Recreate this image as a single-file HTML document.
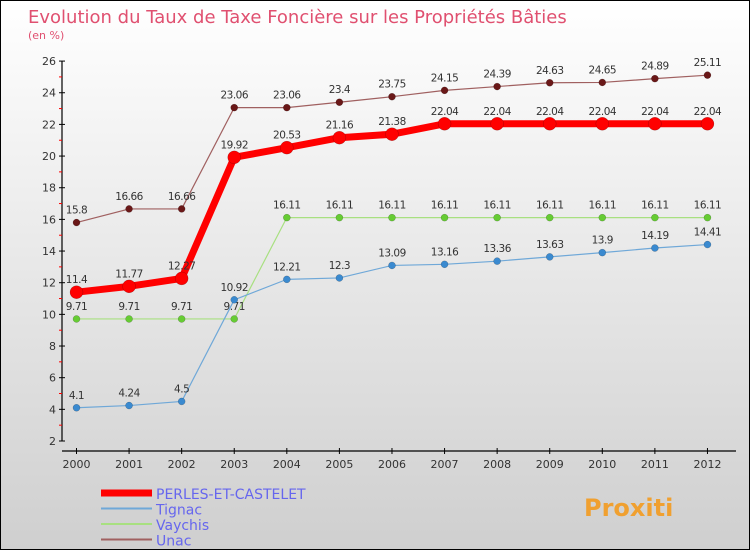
<!DOCTYPE html>
<html><head><meta charset="utf-8"><style>
body{margin:0}
#c{width:748px;height:548px;border:1px solid #000;background:linear-gradient(#fff,#cfcfcf);position:relative;font-family:"DejaVu Sans","Liberation Sans",sans-serif}
svg{position:absolute;left:0;top:0}
</style></head><body>
<div id="c">
<svg id="s" width="750" height="550"></svg>
</div>
<script>
const years=[2000,2001,2002,2003,2004,2005,2006,2007,2008,2009,2010,2011,2012];
const perles=[11.4,11.77,12.27,19.92,20.53,21.16,21.38,22.04,22.04,22.04,22.04,22.04,22.04];
const tignac=[4.1,4.24,4.5,10.92,12.21,12.3,13.09,13.16,13.36,13.63,13.9,14.19,14.41];
const vaychis=[9.71,9.71,9.71,9.71,16.11,16.11,16.11,16.11,16.11,16.11,16.11,16.11,16.11];
const unac=[15.8,16.66,16.66,23.06,23.06,23.4,23.75,24.15,24.39,24.63,24.65,24.89,25.11];
const yTicks=[2,4,6,8,10,12,14,16,18,20,22,24,26];
const NS="http://www.w3.org/2000/svg";
const s=document.getElementById('s');
const X=i=>75.5+i*52.58;
const Y=v=>440-(v-2)*15.83;
function el(t,a,p){const e=document.createElementNS(NS,t);for(const k in a)e.setAttribute(k,a[k]);(p||s).appendChild(e);return e;}
function fmt(v){return String(v).replace(/\.?0+$/,'');}
let t=el('text',{x:27,y:22,'font-size':18,fill:'#e05070'});t.textContent='Evolution du Taux de Taxe Foncière sur les Propriétés Bâties';


t=el('text',{x:27,y:38,'font-size':11,fill:'#e05070'});t.textContent='(en %)';


let a=el('line',{x1:61,y1:60,x2:61,y2:440,stroke:'#000','stroke-width':1.2});


a=el('line',{x1:61,y1:450,x2:735,y2:450,stroke:'#000','stroke-width':1.2});


yTicks.forEach((v,i)=>{
 el('line',{x1:58,x2:64,y1:Y(v),y2:Y(v),stroke:'#000'});
 if(i<yTicks.length-1)el('line',{x1:58,x2:61,y1:Y(v+1),y2:Y(v+1),stroke:'#f00'});
 const l=el('text',{x:55,y:Y(v)+4,'font-size':11,fill:'#333','text-anchor':'end'});l.textContent=v;
 
 
});
years.forEach((y,i)=>{
 el('line',{x1:X(i),x2:X(i),y1:447,y2:453,stroke:'#000'});
 const l=el('text',{x:X(i),y:467,'font-size':11,fill:'#333','text-anchor':'middle'});l.textContent=y;
 
 
});
function series(d,col,dot,w,r,name){
 const g=el('g',{});
 
 
 el('polyline',{points:d.map((v,i)=>X(i)+','+Y(v)).join(' '),fill:'none',stroke:col,'stroke-width':w,'stroke-linejoin':'round'},g);
 d.forEach((v,i)=>{
  const c=el('circle',{cx:X(i),cy:Y(v),r:r,fill:dot,stroke:'rgba(0,0,0,0.3)','stroke-width':0.5},g);
  
  
  const l=el('text',{x:X(i),y:Y(v)-9,'font-size':10.5,fill:'#333','text-anchor':'middle','letter-spacing':'-0.5'},g);l.textContent=fmt(v);
 });
}
series(vaychis,'#a8e080','#66cc33',1.2,3.5,'vaychis');
series(tignac,'#6fa8d8','#3a8ad0',1.2,3.5,'tignac');
series(unac,'#a06060','#6a1818',1.2,3.5,'unac');
series(perles,'#ff0000','#ff0000',7,6.5,'perles');
const legend=[['PERLES-ET-CASTELET','#f00',7],['Tignac','#6fa8d8',2],['Vaychis','#a8e080',2],['Unac','#a06060',2]];
legend.forEach((L,i)=>{
 const yy=492+i*15.5;
 const g=el('g',{});
 
 
 el('line',{x1:100,x2:151,y1:yy,y2:yy,stroke:L[1],'stroke-width':L[2]},g);
 const tx=el('text',{x:155,y:yy+6,'font-size':14,fill:'#6666ee'},g);tx.textContent=L[0];
});
const p=el('text',{x:583,y:515,'font-size':24,'font-weight':'bold',fill:'#f0a030'});
p.textContent='Proxiti';


</script>
</body></html>
